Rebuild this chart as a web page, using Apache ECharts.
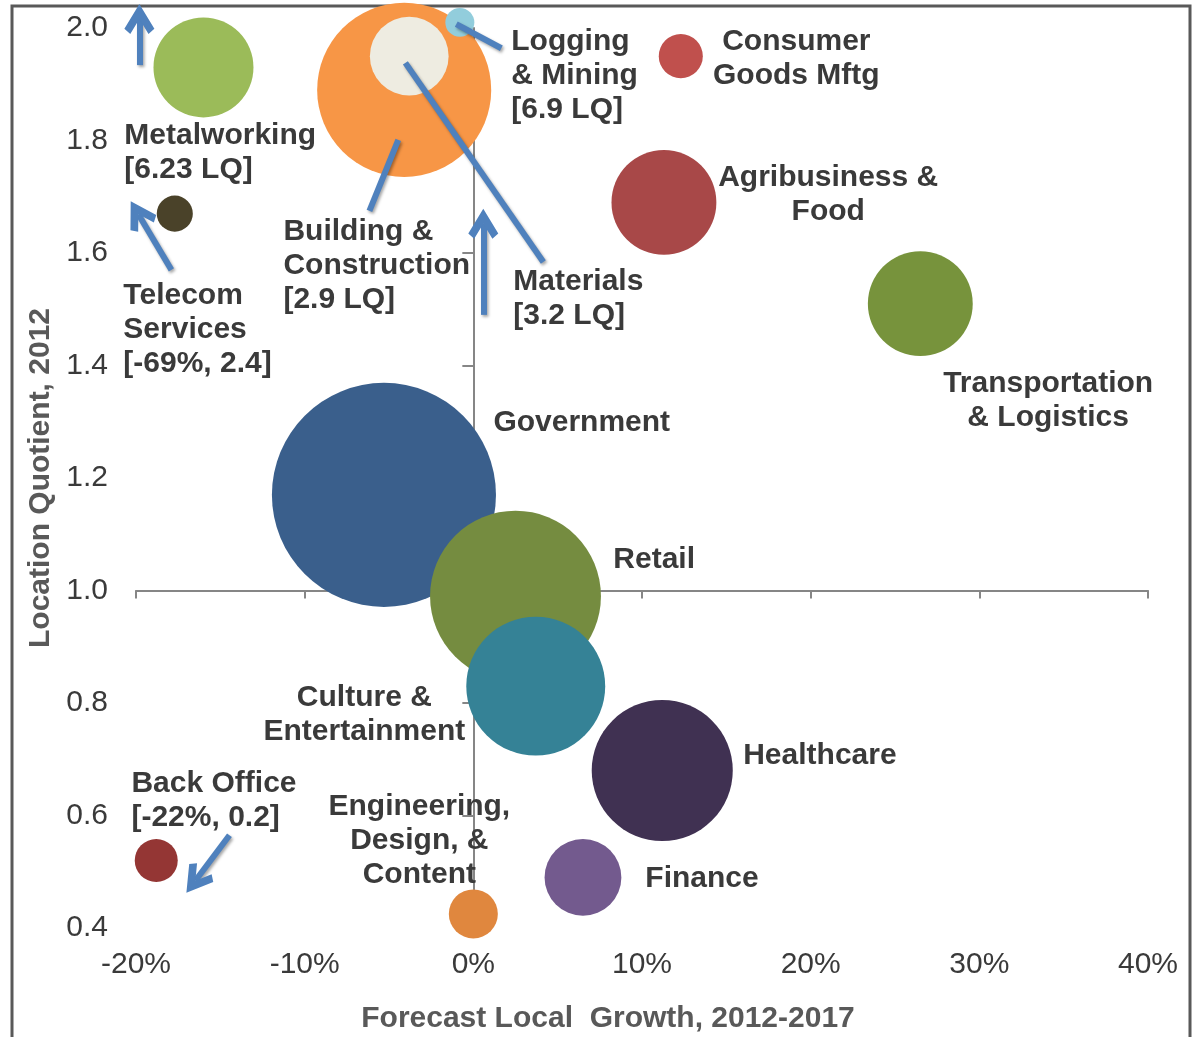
<!DOCTYPE html>
<html>
<head>
<meta charset="utf-8">
<title>Location Quotient vs Forecast Local Growth</title>
<script src="https://cdn.jsdelivr.net/npm/echarts@6/dist/echarts.min.js"></script>
<style>
  html, body { margin: 0; padding: 0; background: #fff; }
  #chartDom { width: 1198px; height: 1037px; }
</style>
</head>
<body>
<div id="chartDom"></div>
<script>
// axis ticks
var xTicks = [-20, -10, 0, 10, 20, 30, 40];
var yTicks = [0.4, 0.6, 0.8, 1.0, 1.2, 1.4, 1.6, 1.8, 2.0];

// one entry per bubble (drawing order: later ones sit on top)
var sectors = ['Government', 'Retail', 'Culture & Entertainment', 'Healthcare', 'Finance',
    'Engineering, Design, & Content', 'Back Office', 'Metalworking', 'Telecom Services',
    'Building & Construction', 'Materials', 'Logging & Mining', 'Consumer Goods Mftg',
    'Agribusiness & Food', 'Transportation & Logistics'];
var growth = [-5.3, 2.5, 3.7, 11.2, 6.5, 0.0, -18.8, -16.0, -17.7, -4.1, -3.8, -0.8, 12.3, 11.3, 26.5];
var lq = [1.17, 0.99, 0.83, 0.68, 0.49, 0.425, 0.52, 1.93, 1.67, 1.89, 1.95, 2.01, 1.95, 1.69, 1.51];
var jobs = [502, 292, 193, 199, 59, 24, 18.5, 100, 13, 303, 62, 8.4, 19.4, 110, 110];

var colors = ['#3A5F8C', '#758C40', '#358296', '#403152', '#735A8E', '#E0873E', '#943634',
    '#9BBB59', '#4A4229', '#F79646', '#EEECE1', '#92CDDC', '#C0504D', '#A84848', '#77933C'];

// callout text: [text, growth, lq, align]
var notes = [
    ['Metalworking\n[6.23 LQ]', -20.69, 1.778, 'left'],
    ['Telecom\nServices\n[-69%, 2.4]', -20.75, 1.463, 'left'],
    ['Building &\nConstruction\n[2.9 LQ]', -11.26, 1.577, 'left'],
    ['Logging\n& Mining\n[6.9 LQ]', 2.25, 1.915, 'left'],
    ['Consumer\nGoods Mftg', 19.15, 1.945, 'center'],
    ['Agribusiness &\nFood', 21.04, 1.704, 'center'],
    ['Materials\n[3.2 LQ]', 2.37, 1.518, 'left'],
    ['Transportation\n& Logistics', 34.08, 1.338, 'center'],
    ['Government', 1.19, 1.298, 'left'],
    ['Retail', 8.30, 1.054, 'left'],
    ['Culture &\nEntertainment', -6.46, 0.780, 'center'],
    ['Healthcare', 16.0, 0.706, 'left'],
    ['Back Office\n[-22%, 0.2]', -20.27, 0.626, 'left'],
    ['Engineering,\nDesign, &\nContent', -3.20, 0.555, 'center'],
    ['Finance', 10.20, 0.487, 'left']
];

// leader lines with arrow heads, and plain leader lines
var arrowLines = [
    [[-19.8, 1.934], [-19.8, 2.016]],
    [[-17.9, 1.570], [-19.86, 1.669]],
    [[0.59, 1.490], [0.59, 1.652]],
    [[-14.46, 0.565], [-16.48, 0.484]]
];
var plainLines = [
    [[-6.16, 1.675], [-4.45, 1.801]],
    [[-4.03, 1.938], [4.15, 1.584]],
    [[-1.01, 2.007], [1.66, 1.964]]
];

var FONT = '"Liberation Sans", Arial, sans-serif';
var chartDom = echarts.init(document.getElementById('chartDom'));

var gridTop = 28, gridBottom = 109, chartH = 1037;
var gridH = chartH - gridTop - gridBottom;
var yMin = yTicks[0], yMax = yTicks[yTicks.length - 1];
var xAxisShift = -gridH * (1.0 - yMin) / (yMax - yMin);

var bubbles = sectors.map(function (name, i) {
    return {
        name: name,
        value: [growth[i], lq[i], jobs[i]],
        itemStyle: { color: colors[i], opacity: 1 }
    };
});

var lineStyle = {
    color: '#4F81BD', width: 6, opacity: 1, curveness: 0,
    shadowColor: 'rgba(0,0,0,0.35)', shadowBlur: 3, shadowOffsetX: 1.5, shadowOffsetY: 2
};
// open arrow head, tip pointing up
var chevron = 'path://M0,19 L14,0 L28,19 L22.5,23 L14,11.5 L5.5,23 Z';

var xBase = {
    type: 'value',
    min: xTicks[0], max: xTicks[xTicks.length - 1], interval: xTicks[1] - xTicks[0],
    splitLine: { show: false }
};
var yBase = {
    type: 'value',
    min: yMin, max: yMax, interval: 0.2,
    splitLine: { show: false }
};

chartDom.setOption({
    animation: false,
    grid: { left: 136, right: 50, top: gridTop, bottom: gridBottom, outerBoundsMode: 'none' },
    xAxis: [
        Object.assign({}, xBase, {
            position: 'bottom',
            axisLine: { show: false, onZero: false },
            axisTick: { show: false },
            axisLabel: {
                margin: 22, fontSize: 30, color: '#3A3A3A', fontFamily: FONT,
                formatter: function (v) { return v + '%'; }
            }
        }),
        Object.assign({}, xBase, {
            position: 'bottom',
            offset: xAxisShift,
            axisLine: { show: true, onZero: false, lineStyle: { color: '#868686', width: 2 } },
            axisTick: { show: true, length: 8, lineStyle: { color: '#868686', width: 2 } },
            axisLabel: { show: false }
        })
    ],
    yAxis: [
        Object.assign({}, yBase, {
            position: 'left',
            axisLine: { show: false, onZero: false },
            axisTick: { show: false },
            axisLabel: {
                margin: 28, fontSize: 30, color: '#3A3A3A', fontFamily: FONT,
                formatter: function (v) { return v.toFixed(1); }
            },
            name: 'Location Quotient, 2012',
            nameLocation: 'middle',
            nameGap: 77,
            nameTextStyle: { fontSize: 30, fontWeight: 'bold', color: '#595959', fontFamily: FONT }
        }),
        Object.assign({}, yBase, {
            position: 'left',
            axisLine: { show: true, onZero: true, onZeroAxisIndex: 0, lineStyle: { color: '#868686', width: 2 } },
            axisTick: { show: true, length: 11, lineStyle: { color: '#868686', width: 2 } },
            axisLabel: { show: false }
        })
    ],
    graphic: [
        {
            type: 'rect', silent: true, z: -1,
            shape: { x: 12, y: 6, width: 1178, height: 1100 },
            style: { fill: 'none', stroke: '#595959', lineWidth: 3 }
        },
        {
            type: 'text', silent: true,
            x: 608, y: 1019,
            style: {
                text: 'Forecast Local  Growth, 2012-2017',
                font: 'bold 30px ' + FONT,
                fill: '#595959', align: 'center', verticalAlign: 'middle'
            }
        }
    ],
    series: [
        {
            type: 'scatter',
            name: 'sectors',
            clip: false,
            z: 2,
            silent: true,
            symbolSize: function (v) { return 10 * Math.sqrt(v[2]); },
            itemStyle: { opacity: 1 },
            data: bubbles
        },
        {
            type: 'lines',
            coordinateSystem: 'cartesian2d',
            clip: false,
            z: 4,
            silent: true,
            symbol: ['none', chevron],
            symbolSize: 30,
            lineStyle: lineStyle,
            data: arrowLines.map(function (c) { return { coords: c }; })
        },
        {
            type: 'lines',
            coordinateSystem: 'cartesian2d',
            clip: false,
            z: 4,
            silent: true,
            symbol: 'none',
            lineStyle: lineStyle,
            data: plainLines.map(function (c) { return { coords: c }; })
        },
        {
            type: 'scatter',
            name: 'callouts',
            clip: false,
            z: 6,
            silent: true,
            symbolSize: 0,
            itemStyle: { opacity: 1 },
            label: {
                show: true, position: 'inside',
                fontSize: 30, fontWeight: 'bold', lineHeight: 34,
                color: '#3A3A3A', fontFamily: FONT, opacity: 1
            },
            data: notes.map(function (n) {
                return { value: [n[1], n[2]], label: { formatter: n[0], align: n[3] } };
            })
        }
    ]
});
</script>
</body>
</html>
